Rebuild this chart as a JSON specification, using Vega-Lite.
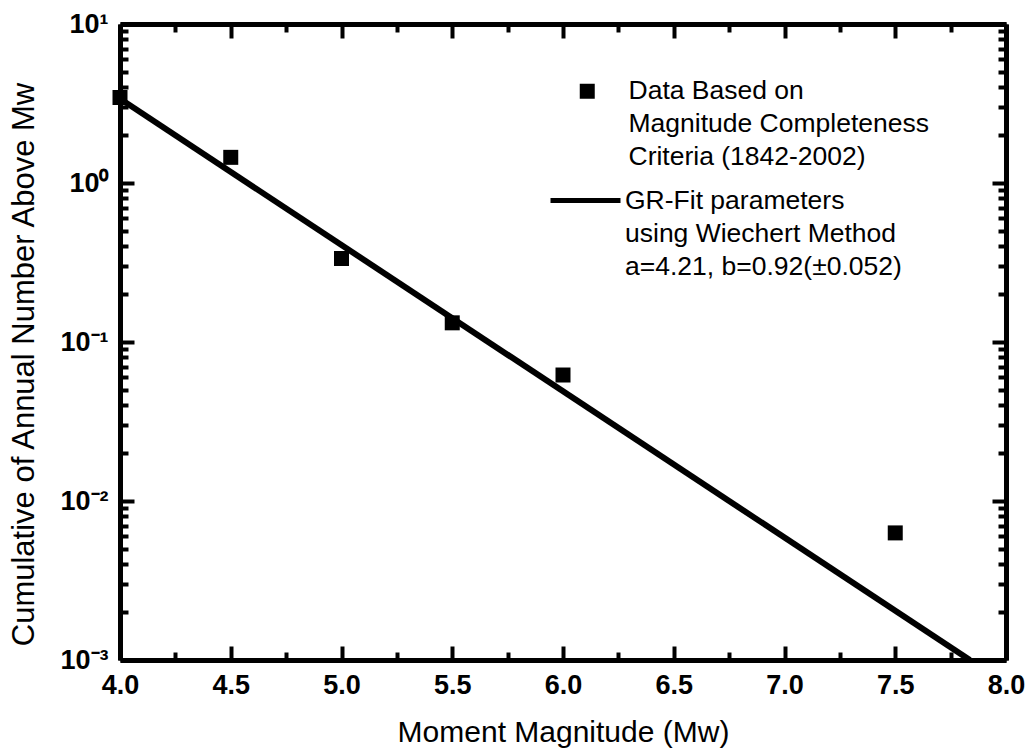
{
  "$schema": "https://vega.github.io/schema/vega-lite/v6.json",
  "width": 886,
  "height": 636,
  "autosize": {"type": "none"},
  "padding": {"left": 120, "top": 24, "right": 25, "bottom": 95},
  "config": {
    "view": {"stroke": null},
    "font": "Liberation Sans",
    "style": {"guide-label": {"lineHeight": 33}},
    "axis": {
      "grid": false,
      "domainColor": "black",
      "domainWidth": 5,
      "tickColor": "black",
      "tickWidth": 4,
      "labelColor": "black",
      "titleColor": "black",
      "labelFont": "Liberation Sans",
      "labelFontWeight": "bold",
      "labelFontSize": 27,
      "titleFont": "Liberation Sans",
      "titleFontWeight": "normal",
      "titleFontSize": 30
    },
    "legend": {
      "labelFont": "Liberation Sans",
      "labelFontSize": 26.5,
      "labelColor": "black",
      "labelLimit": 600,
      "padding": 0
    }
  },
  "datasets": {
    "pts": [
      {"M": 4.0, "N": 3.45, "series": "Data Based on|Magnitude Completeness|Criteria (1842-2002)"},
      {"M": 4.5, "N": 1.45, "series": "Data Based on|Magnitude Completeness|Criteria (1842-2002)"},
      {"M": 5.0, "N": 0.335, "series": "Data Based on|Magnitude Completeness|Criteria (1842-2002)"},
      {"M": 5.5, "N": 0.132, "series": "Data Based on|Magnitude Completeness|Criteria (1842-2002)"},
      {"M": 6.0, "N": 0.062, "series": "Data Based on|Magnitude Completeness|Criteria (1842-2002)"},
      {"M": 7.5, "N": 0.0063, "series": "Data Based on|Magnitude Completeness|Criteria (1842-2002)"}
    ],
    "fit": [
      {"M": 4.0, "N": 3.388, "series": "GR-Fit parameters|using Wiechert Method|a=4.21, b=0.92(±0.052)"},
      {"M": 7.837, "N": 0.001, "series": "GR-Fit parameters|using Wiechert Method|a=4.21, b=0.92(±0.052)"}
    ]
  },
  "layer": [
    {
      "data": {"name": "pts"},
      "mark": {"type": "point", "filled": true, "opacity": 1, "color": "black", "size": 225},
      "encoding": {
        "x": {
          "field": "M", "type": "quantitative",
          "scale": {"domain": [4, 8], "nice": false, "zero": false},
          "axis": {
            "orient": "bottom",
            "title": "Moment Magnitude (Mw)",
            "titleFontSize": 30,
            "values": [4, 4.25, 4.5, 4.75, 5, 5.25, 5.5, 5.75, 6, 6.25, 6.5, 6.75, 7, 7.25, 7.5, 7.75, 8],
            "labelExpr": "datum.value % 0.5 == 0 ? format(datum.value, '.1f') : ''",
            "tickSize": {"condition": {"test": "datum.value % 0.5 == 0", "value": -14}, "value": -8},
            "labelPadding": 26,
            "labelFlush": false,
            "titlePadding": 19
          }
        },
        "y": {
          "field": "N", "type": "quantitative",
          "scale": {"type": "log", "domain": [0.001, 10], "nice": false},
          "axis": {
            "orient": "left",
            "title": "Cumulative of Annual Number Above Mw",
            "titleFontSize": 31,
            "titleY": 340,
            "labelFontSize": 27,
            "values": [0.001,0.002,0.003,0.004,0.005,0.006,0.007,0.008,0.009,0.01,0.02,0.03,0.04,0.05,0.06,0.07,0.08,0.09,0.1,0.2,0.3,0.4,0.5,0.6,0.7,0.8,0.9,1,2,3,4,5,6,7,8,9,10],
            "labelExpr": "abs(log(datum.value)/LN10 - round(log(datum.value)/LN10)) < 0.001 ? (round(log(datum.value)/LN10) == 1 ? '10¹' : round(log(datum.value)/LN10) == 0 ? '10⁰' : round(log(datum.value)/LN10) == -1 ? '10⁻¹' : round(log(datum.value)/LN10) == -2 ? '10⁻²' : '10⁻³') : ''",
            "tickSize": {"condition": {"test": "abs(log(datum.value)/LN10 - round(log(datum.value)/LN10)) < 0.001", "value": -14}, "value": -8},
            "labelPadding": 26,
            "labelFlush": false,
            "titlePadding": 19
          }
        },
        "shape": {
          "field": "series", "type": "nominal",
          "scale": {"range": ["square"]},
          "legend": {
            "title": null,
            "orient": "none",
            "legendX": 454,
            "legendY": 54,
            "symbolSize": 225,
            "symbolFillColor": "black",
            "symbolStrokeWidth": 0,
            "labelOffset": 28,
            "labelExpr": "split(datum.label, '|')"
          }
        }
      }
    },
    {
      "data": {"name": "fit"},
      "mark": {"type": "line", "strokeWidth": 6, "clip": true},
      "encoding": {
        "x": {
          "field": "M", "type": "quantitative",
          "axis": {
            "orient": "top",
            "title": null,
            "labels": false,
            "values": [4, 4.25, 4.5, 4.75, 5, 5.25, 5.5, 5.75, 6, 6.25, 6.5, 6.75, 7, 7.25, 7.5, 7.75, 8],
            "tickSize": {"condition": {"test": "datum.value % 0.5 == 0", "value": -14}, "value": -8}
          }
        },
        "y": {
          "field": "N", "type": "quantitative",
          "axis": {
            "orient": "right",
            "title": null,
            "labels": false,
            "values": [0.001,0.002,0.003,0.004,0.005,0.006,0.007,0.008,0.009,0.01,0.02,0.03,0.04,0.05,0.06,0.07,0.08,0.09,0.1,0.2,0.3,0.4,0.5,0.6,0.7,0.8,0.9,1,2,3,4,5,6,7,8,9,10],
            "tickSize": {"condition": {"test": "abs(log(datum.value)/LN10 - round(log(datum.value)/LN10)) < 0.001", "value": -14}, "value": -8}
          }
        },
        "color": {
          "field": "series", "type": "nominal",
          "scale": {"range": ["black"]},
          "legend": {
            "title": null,
            "orient": "none",
            "legendX": 428,
            "legendY": 139,
            "symbolType": "stroke",
            "symbolSize": 4900,
            "symbolStrokeWidth": 5,
            "symbolStrokeColor": "black",
            "labelOffset": 2,
            "labelExpr": "split(datum.label, '|')"
          }
        }
      }
    }
  ],
  "resolve": {"axis": {"x": "independent", "y": "independent"}}
}
